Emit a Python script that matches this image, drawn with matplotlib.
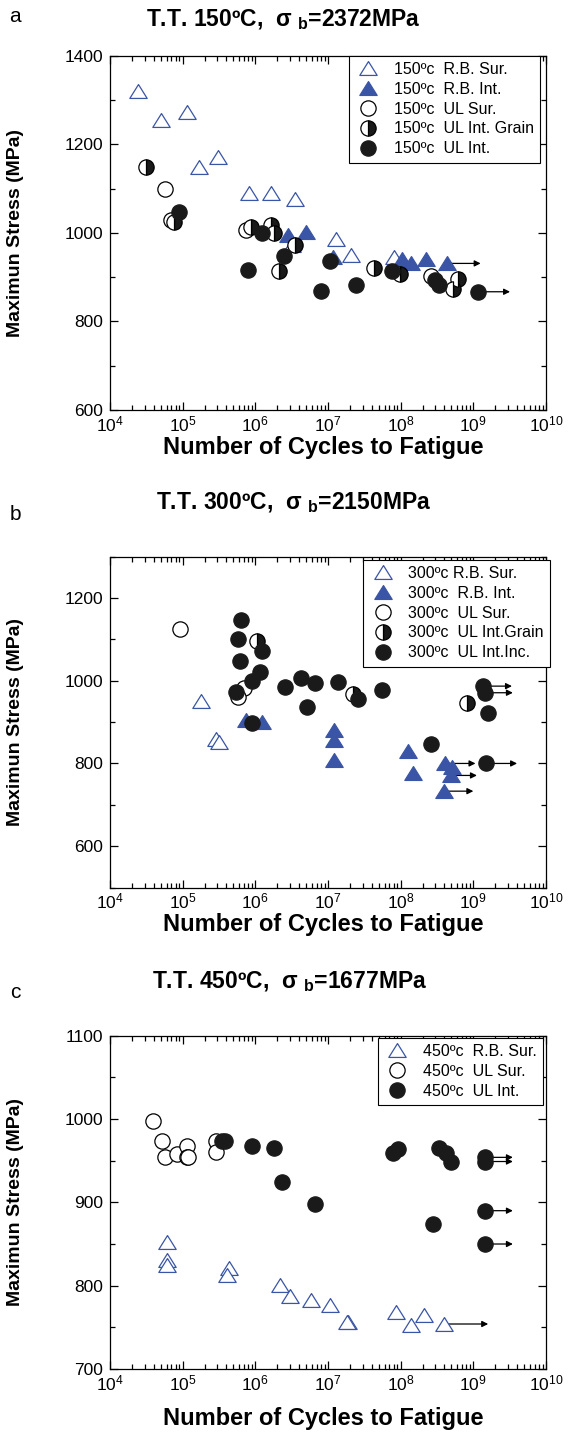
import numpy as np
import matplotlib
matplotlib.use('Agg')
import matplotlib.pyplot as plt
from matplotlib.ticker import MultipleLocator, LogLocator, NullFormatter

plt.rcParams['font.family'] = ['Liberation Sans', 'DejaVu Sans']
plt.rcParams['mathtext.fontset'] = 'custom'
plt.rcParams['mathtext.rm'] = 'Liberation Sans'
plt.rcParams['mathtext.it'] = 'Liberation Sans:italic'
plt.rcParams['mathtext.bf'] = 'Liberation Sans:bold'

BLUE = '#3a55a6'

# ---- panel a : T.T. 150C ----
a_rb_sur_x = [2.4e4, 5.1e4, 1.15e5, 1.66e5, 3.1e5, 8.3e5, 1.66e6, 3.5e6, 1.3e7, 2.1e7, 8.1e7, 3.2e6]
a_rb_sur_y = [1320, 1255, 1273, 1148, 1172, 1090, 1090, 1077, 985, 950, 946, 972]
a_rb_int_x = [2.8e6, 5.0e6, 1.17e7, 1.03e8, 1.38e8, 2.2e8, 4.3e8]
a_rb_int_y = [995, 1001, 946, 942, 931, 940, 931]
a_ul_sur_x = [5.7e4, 7.0e4, 7.4e5, 2.6e8]
a_ul_sur_y = [1099, 1028, 1006, 902]
a_ul_grain_x = [3.1e4, 7.6e4, 8.7e5, 1.66e6, 1.78e6, 3.5e6, 2.1e6, 4.3e7, 9.8e7, 6.2e8, 5.2e8]
a_ul_grain_y = [1149, 1024, 1014, 1017, 999, 972, 914, 920, 907, 895, 874]
a_ul_int_x = [8.8e4, 1.23e6, 2.5e6, 7.9e5, 1.07e7, 8.1e6, 2.4e7, 7.5e7, 3.0e8, 3.4e8, 1.17e9]
a_ul_int_y = [1046, 999, 948, 916, 937, 868, 883, 913, 893, 882, 867]
a_run_x = [4.3e8, 1.17e9]
a_run_y = [931, 867]
a_run_end = [1.26e9, 3.2e9]

# ---- panel b : T.T. 300C ----
b_rb_sur_x = [1.78e5, 2.9e5, 3.2e5]
b_rb_sur_y = [951, 858, 853]
b_rb_int_x = [7.4e5, 1.23e6, 1.2e7, 1.2e7, 1.22e7, 1.26e8, 1.5e8, 4.1e8, 5.1e8, 5.0e8, 4.0e8]
b_rb_int_y = [905, 900, 880, 856, 808, 830, 776, 800, 791, 771, 733]
b_ul_sur_x = [9.2e4, 6.9e5, 5.7e5]
b_ul_sur_y = [1124, 983, 961]
b_ul_grain_x = [1.07e6, 2.2e7, 8.1e8]
b_ul_grain_y = [1097, 969, 946]
b_ul_int_x = [6.3e5, 5.8e5, 1.23e6, 6.1e5, 1.15e6, 8.9e5, 5.4e5, 2.6e6, 4.2e6, 6.6e6,
              5.1e6, 1.37e7, 2.6e7, 5.5e7, 8.9e5, 2.6e8, 1.35e9, 1.45e9, 1.6e9, 1.48e9]
b_ul_int_y = [1148, 1100, 1072, 1048, 1022, 1000, 973, 984, 1007, 994,
              937, 997, 957, 977, 898, 848, 987, 971, 923, 800]
b_run_x = [4.1e8, 5.0e8, 4.0e8, 1.35e9, 1.45e9, 1.48e9]
b_run_y = [800, 771, 733, 987, 971, 800]
b_run_end = [1.07e9, 1.12e9, 1.0e9, 3.4e9, 3.5e9, 4.0e9]

# ---- panel c : T.T. 450C ----
c_rb_sur_x = [6.0e4, 6.1e4, 6.1e4, 4.4e5, 4.1e5, 2.2e6, 3.0e6, 5.9e6, 1.07e7, 1.9e7, 1.8e7,
              8.5e7, 1.38e8, 2.1e8, 3.9e8]
c_rb_sur_y = [853, 831, 825, 821, 813, 801, 788, 783, 777, 757, 756, 768, 753, 765, 754]
c_ul_sur_x = [3.9e4, 5.2e4, 5.8e4, 8.4e4, 1.13e5, 1.13e5, 1.2e5, 2.9e5, 2.9e5]
c_ul_sur_y = [998, 974, 954, 958, 968, 955, 954, 974, 960]
c_ul_int_x = [3.5e5, 3.8e5, 9.1e5, 1.8e6, 2.3e6, 6.6e6, 7.8e7, 9.3e7, 3.4e8, 4.2e8, 5.0e8,
              2.8e8, 1.45e9, 1.45e9, 1.45e9, 1.45e9]
c_ul_int_y = [974, 974, 968, 965, 925, 898, 959, 964, 965, 959, 949, 874, 954, 949, 890, 850]
c_run_x = [3.9e8, 1.45e9, 1.45e9, 1.45e9, 1.45e9]
c_run_y = [754, 954, 949, 890, 850]
c_run_end = [1.6e9, 3.5e9, 3.5e9, 3.5e9, 3.5e9]

# wider-than-tall triangle marker
TRI = [(0, 0.8), (-1, -0.8), (1, -0.8), (0, 0.8)]
TRI_MS = 12.5
CIR_MS = 11


def tri_open(ax, x, y, lab):
    ax.plot(x, y, ls='none', marker=TRI, ms=TRI_MS, mfc='white', mec=BLUE, mew=0.9, label=lab, zorder=3)


def tri_fill(ax, x, y, lab):
    ax.plot(x, y, ls='none', marker=TRI, ms=TRI_MS, mfc=BLUE, mec=BLUE, mew=0.9, label=lab, zorder=3)


def circ_open(ax, x, y, lab):
    ax.plot(x, y, ls='none', marker='o', ms=CIR_MS, mfc='white', mec='black', mew=0.9, label=lab, zorder=3)


def circ_half(ax, x, y, lab):
    ax.plot(x, y, ls='none', marker='o', ms=CIR_MS, fillstyle='right', mfc='#1a1a1a',
            markerfacecoloralt='white', mec='black', mew=0.9, label=lab, zorder=3)


def circ_fill(ax, x, y, lab):
    ax.plot(x, y, ls='none', marker='o', ms=CIR_MS, mfc='#1a1a1a', mec='#1a1a1a', mew=0.9, label=lab, zorder=3)


def runouts(ax, xs, ys, ends):
    # run-out arrows (specimen did not fail)
    for x0, y0, x1 in zip(xs, ys, ends):
        ax.annotate('', xy=(x1, y0), xytext=(x0, y0),
                    arrowprops=dict(arrowstyle='-|>', color='black', lw=0.9,
                                    mutation_scale=9, shrinkA=0, shrinkB=0),
                    zorder=2)


def style_axes(ax, ylo, yhi, ymaj, ymin, top_px, bot_px, xlab_gap):
    ax.set_xscale('log')
    ax.set_xlim(1e4, 1e10)
    ax.set_ylim(ylo, yhi)
    ax.xaxis.set_major_locator(LogLocator(base=10, numticks=10))
    ax.xaxis.set_minor_locator(LogLocator(base=10, subs=np.arange(2, 10), numticks=20))
    ax.xaxis.set_minor_formatter(NullFormatter())
    ax.yaxis.set_major_locator(MultipleLocator(ymaj))
    ax.yaxis.set_minor_locator(MultipleLocator(ymin))
    ax.tick_params(which='both', direction='in', top=True, right=True, labelsize=12.5, width=0.9)
    ax.tick_params(which='major', length=6, pad=5)
    ax.tick_params(axis='x', which='major', pad=3)
    ax.tick_params(which='minor', length=3.5)
    for s in ax.spines.values():
        s.set_linewidth(0.9)
    h = bot_px - top_px
    ax.set_xlabel('Number of Cycles to Fatigue', fontsize=17, fontweight='bold')
    ax.set_ylabel('Maximun Stress (MPa)', fontsize=14, fontweight='bold')
    ax.xaxis.set_label_coords((323 - 110) / 436, -xlab_gap / h)
    ax.yaxis.set_label_coords(-(110 - 24) / 436, 0.5)


W, H = 584, 1434
fig = plt.figure(figsize=(W / 100, H / 100), dpi=100)


def add_ax(top_px, bot_px):
    return fig.add_axes([110 / W, 1 - bot_px / H, 436 / W, (bot_px - top_px) / H])


def add_legend(ax, anchor):
    leg = ax.legend(loc='upper right', bbox_to_anchor=anchor, fontsize=11.5, frameon=True,
                    fancybox=False, framealpha=1, edgecolor='black', borderaxespad=0,
                    handlelength=1.6, handletextpad=0.8, labelspacing=0.3, borderpad=0.4)
    leg.get_frame().set_linewidth(0.8)


# panel a
ax = add_ax(55.7, 410)
tri_open(ax, a_rb_sur_x, a_rb_sur_y, '150ºc  R.B. Sur.')
tri_fill(ax, a_rb_int_x, a_rb_int_y, '150ºc  R.B. Int.')
circ_open(ax, a_ul_sur_x, a_ul_sur_y, '150ºc  UL Sur.')
circ_half(ax, a_ul_grain_x, a_ul_grain_y, '150ºc  UL Int. Grain')
circ_fill(ax, a_ul_int_x, a_ul_int_y, '150ºc  UL Int.')
runouts(ax, a_run_x, a_run_y, a_run_end)
style_axes(ax, 600, 1400, 200, 100, 55.7, 410, 26)
add_legend(ax, (1 - 6 / 436, 1.0))

# panel b
ax = add_ax(556.7, 887.5)
tri_open(ax, b_rb_sur_x, b_rb_sur_y, '300ºc R.B. Sur.')
tri_fill(ax, b_rb_int_x, b_rb_int_y, '300ºc  R.B. Int.')
circ_open(ax, b_ul_sur_x, b_ul_sur_y, '300ºc  UL Sur.')
circ_half(ax, b_ul_grain_x, b_ul_grain_y, '300ºc  UL Int.Grain')
circ_fill(ax, b_ul_int_x, b_ul_int_y, '300ºc  UL Int.Inc.')
runouts(ax, b_run_x, b_run_y, b_run_end)
style_axes(ax, 500, 1300, 200, 100, 556.7, 887.5, 26)
add_legend(ax, (1 + 4 / 436, 1 - 3 / 330.8))

# panel c
ax = add_ax(1035.7, 1369)
tri_open(ax, c_rb_sur_x, c_rb_sur_y, '450ºc  R.B. Sur.')
circ_open(ax, c_ul_sur_x, c_ul_sur_y, '450ºc  UL Sur.')
circ_fill(ax, c_ul_int_x, c_ul_int_y, '450ºc  UL Int.')
runouts(ax, c_run_x, c_run_y, c_run_end)
style_axes(ax, 700, 1100, 100, 50, 1035.7, 1369, 38)
add_legend(ax, (1 - 3 / 436, 1 - 2 / 333.3))

# titles and panel letters
titles = ['T.T. 150ºC,  σ $_{\\mathbf{b}}$=2372MPa',
          'T.T. 300ºC,  σ $_{\\mathbf{b}}$=2150MPa',
          'T.T. 450ºC,  σ $_{\\mathbf{b}}$=1677MPa']
title_pos = [(283, 20), (294, 503), (290, 982)]
letters = ['a', 'b', 'c']
letter_pos = [(15, 17), (15, 515), (15, 993)]
for t, (tx, ty) in zip(titles, title_pos):
    fig.text(tx / W, 1 - ty / H, t, fontsize=16.5, fontweight='bold', ha='center', va='center')
for l, (lx, ly) in zip(letters, letter_pos):
    fig.text(lx / W, 1 - ly / H, l, fontsize=15, ha='center', va='center')

fig.savefig('out.png', dpi=100)
